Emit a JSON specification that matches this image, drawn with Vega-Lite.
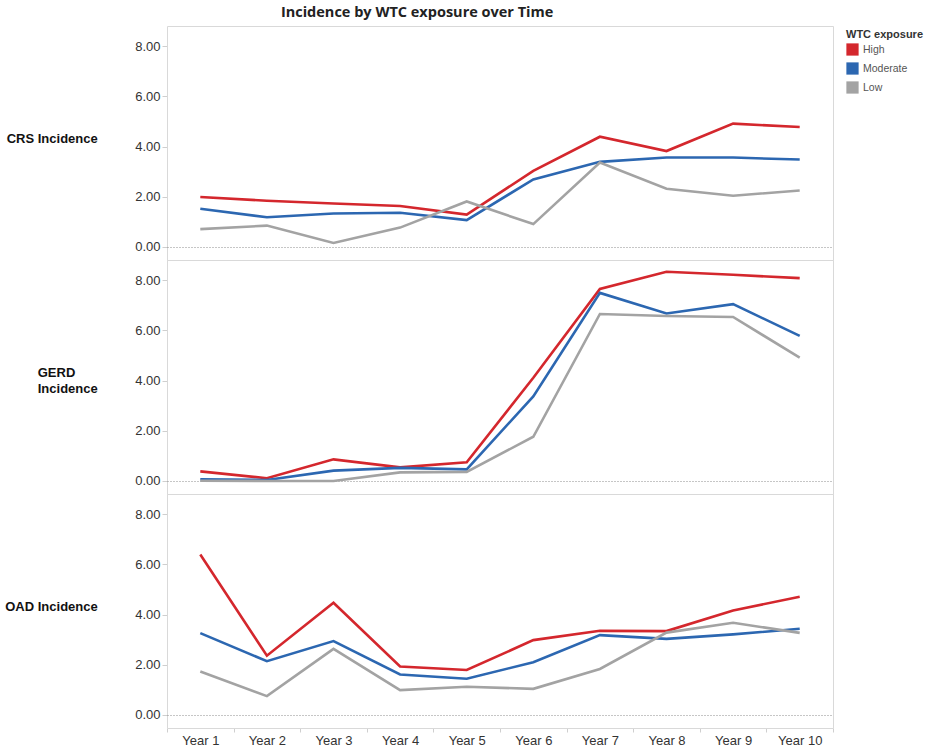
{
  "$schema": "https://vega.github.io/schema/vega-lite/v6.json",
  "title": {"text": "Incidence by WTC exposure over Time", "anchor": "middle", "dx": -49, "font": "Open Sans", "fontSize": 14.5, "fontWeight": "bold", "color": "#222", "offset": 5},
  "padding": {"left": 5, "top": 5, "right": 5, "bottom": 0},
  "bounds": "flush",
  "data": {
    "values": [
      {"measure": "CRS Incidence", "exposure": "High", "year": "Year 1", "value": 1.99},
      {"measure": "CRS Incidence", "exposure": "High", "year": "Year 2", "value": 1.84},
      {"measure": "CRS Incidence", "exposure": "High", "year": "Year 3", "value": 1.73},
      {"measure": "CRS Incidence", "exposure": "High", "year": "Year 4", "value": 1.63},
      {"measure": "CRS Incidence", "exposure": "High", "year": "Year 5", "value": 1.29},
      {"measure": "CRS Incidence", "exposure": "High", "year": "Year 6", "value": 3.03},
      {"measure": "CRS Incidence", "exposure": "High", "year": "Year 7", "value": 4.39},
      {"measure": "CRS Incidence", "exposure": "High", "year": "Year 8", "value": 3.82},
      {"measure": "CRS Incidence", "exposure": "High", "year": "Year 9", "value": 4.91},
      {"measure": "CRS Incidence", "exposure": "High", "year": "Year 10", "value": 4.78},
      {"measure": "CRS Incidence", "exposure": "Moderate", "year": "Year 1", "value": 1.52},
      {"measure": "CRS Incidence", "exposure": "Moderate", "year": "Year 2", "value": 1.18},
      {"measure": "CRS Incidence", "exposure": "Moderate", "year": "Year 3", "value": 1.33},
      {"measure": "CRS Incidence", "exposure": "Moderate", "year": "Year 4", "value": 1.36},
      {"measure": "CRS Incidence", "exposure": "Moderate", "year": "Year 5", "value": 1.07},
      {"measure": "CRS Incidence", "exposure": "Moderate", "year": "Year 6", "value": 2.69},
      {"measure": "CRS Incidence", "exposure": "Moderate", "year": "Year 7", "value": 3.39},
      {"measure": "CRS Incidence", "exposure": "Moderate", "year": "Year 8", "value": 3.56},
      {"measure": "CRS Incidence", "exposure": "Moderate", "year": "Year 9", "value": 3.56},
      {"measure": "CRS Incidence", "exposure": "Moderate", "year": "Year 10", "value": 3.48},
      {"measure": "CRS Incidence", "exposure": "Low", "year": "Year 1", "value": 0.71},
      {"measure": "CRS Incidence", "exposure": "Low", "year": "Year 2", "value": 0.85},
      {"measure": "CRS Incidence", "exposure": "Low", "year": "Year 3", "value": 0.16},
      {"measure": "CRS Incidence", "exposure": "Low", "year": "Year 4", "value": 0.77},
      {"measure": "CRS Incidence", "exposure": "Low", "year": "Year 5", "value": 1.81},
      {"measure": "CRS Incidence", "exposure": "Low", "year": "Year 6", "value": 0.91},
      {"measure": "CRS Incidence", "exposure": "Low", "year": "Year 7", "value": 3.36},
      {"measure": "CRS Incidence", "exposure": "Low", "year": "Year 8", "value": 2.32},
      {"measure": "CRS Incidence", "exposure": "Low", "year": "Year 9", "value": 2.04},
      {"measure": "CRS Incidence", "exposure": "Low", "year": "Year 10", "value": 2.25},
      {"measure": "GERD Incidence", "exposure": "High", "year": "Year 1", "value": 0.38},
      {"measure": "GERD Incidence", "exposure": "High", "year": "Year 2", "value": 0.11},
      {"measure": "GERD Incidence", "exposure": "High", "year": "Year 3", "value": 0.86},
      {"measure": "GERD Incidence", "exposure": "High", "year": "Year 4", "value": 0.54},
      {"measure": "GERD Incidence", "exposure": "High", "year": "Year 5", "value": 0.74},
      {"measure": "GERD Incidence", "exposure": "High", "year": "Year 6", "value": 4.11},
      {"measure": "GERD Incidence", "exposure": "High", "year": "Year 7", "value": 7.65},
      {"measure": "GERD Incidence", "exposure": "High", "year": "Year 8", "value": 8.33},
      {"measure": "GERD Incidence", "exposure": "High", "year": "Year 9", "value": 8.21},
      {"measure": "GERD Incidence", "exposure": "High", "year": "Year 10", "value": 8.08},
      {"measure": "GERD Incidence", "exposure": "Moderate", "year": "Year 1", "value": 0.07},
      {"measure": "GERD Incidence", "exposure": "Moderate", "year": "Year 2", "value": 0.04},
      {"measure": "GERD Incidence", "exposure": "Moderate", "year": "Year 3", "value": 0.41},
      {"measure": "GERD Incidence", "exposure": "Moderate", "year": "Year 4", "value": 0.52},
      {"measure": "GERD Incidence", "exposure": "Moderate", "year": "Year 5", "value": 0.46},
      {"measure": "GERD Incidence", "exposure": "Moderate", "year": "Year 6", "value": 3.37},
      {"measure": "GERD Incidence", "exposure": "Moderate", "year": "Year 7", "value": 7.49},
      {"measure": "GERD Incidence", "exposure": "Moderate", "year": "Year 8", "value": 6.67},
      {"measure": "GERD Incidence", "exposure": "Moderate", "year": "Year 9", "value": 7.04},
      {"measure": "GERD Incidence", "exposure": "Moderate", "year": "Year 10", "value": 5.78},
      {"measure": "GERD Incidence", "exposure": "Low", "year": "Year 1", "value": 0.01},
      {"measure": "GERD Incidence", "exposure": "Low", "year": "Year 2", "value": 0.0},
      {"measure": "GERD Incidence", "exposure": "Low", "year": "Year 3", "value": 0.0},
      {"measure": "GERD Incidence", "exposure": "Low", "year": "Year 4", "value": 0.34},
      {"measure": "GERD Incidence", "exposure": "Low", "year": "Year 5", "value": 0.36},
      {"measure": "GERD Incidence", "exposure": "Low", "year": "Year 6", "value": 1.76},
      {"measure": "GERD Incidence", "exposure": "Low", "year": "Year 7", "value": 6.65},
      {"measure": "GERD Incidence", "exposure": "Low", "year": "Year 8", "value": 6.57},
      {"measure": "GERD Incidence", "exposure": "Low", "year": "Year 9", "value": 6.53},
      {"measure": "GERD Incidence", "exposure": "Low", "year": "Year 10", "value": 4.91},
      {"measure": "OAD Incidence", "exposure": "High", "year": "Year 1", "value": 6.39},
      {"measure": "OAD Incidence", "exposure": "High", "year": "Year 2", "value": 2.36},
      {"measure": "OAD Incidence", "exposure": "High", "year": "Year 3", "value": 4.47},
      {"measure": "OAD Incidence", "exposure": "High", "year": "Year 4", "value": 1.93},
      {"measure": "OAD Incidence", "exposure": "High", "year": "Year 5", "value": 1.79},
      {"measure": "OAD Incidence", "exposure": "High", "year": "Year 6", "value": 2.98},
      {"measure": "OAD Incidence", "exposure": "High", "year": "Year 7", "value": 3.35},
      {"measure": "OAD Incidence", "exposure": "High", "year": "Year 8", "value": 3.34},
      {"measure": "OAD Incidence", "exposure": "High", "year": "Year 9", "value": 4.16},
      {"measure": "OAD Incidence", "exposure": "High", "year": "Year 10", "value": 4.71},
      {"measure": "OAD Incidence", "exposure": "Moderate", "year": "Year 1", "value": 3.26},
      {"measure": "OAD Incidence", "exposure": "Moderate", "year": "Year 2", "value": 2.14},
      {"measure": "OAD Incidence", "exposure": "Moderate", "year": "Year 3", "value": 2.94},
      {"measure": "OAD Incidence", "exposure": "Moderate", "year": "Year 4", "value": 1.61},
      {"measure": "OAD Incidence", "exposure": "Moderate", "year": "Year 5", "value": 1.44},
      {"measure": "OAD Incidence", "exposure": "Moderate", "year": "Year 6", "value": 2.10},
      {"measure": "OAD Incidence", "exposure": "Moderate", "year": "Year 7", "value": 3.18},
      {"measure": "OAD Incidence", "exposure": "Moderate", "year": "Year 8", "value": 3.03},
      {"measure": "OAD Incidence", "exposure": "Moderate", "year": "Year 9", "value": 3.21},
      {"measure": "OAD Incidence", "exposure": "Moderate", "year": "Year 10", "value": 3.43},
      {"measure": "OAD Incidence", "exposure": "Low", "year": "Year 1", "value": 1.73},
      {"measure": "OAD Incidence", "exposure": "Low", "year": "Year 2", "value": 0.75},
      {"measure": "OAD Incidence", "exposure": "Low", "year": "Year 3", "value": 2.63},
      {"measure": "OAD Incidence", "exposure": "Low", "year": "Year 4", "value": 0.99},
      {"measure": "OAD Incidence", "exposure": "Low", "year": "Year 5", "value": 1.12},
      {"measure": "OAD Incidence", "exposure": "Low", "year": "Year 6", "value": 1.04},
      {"measure": "OAD Incidence", "exposure": "Low", "year": "Year 7", "value": 1.83},
      {"measure": "OAD Incidence", "exposure": "Low", "year": "Year 8", "value": 3.28},
      {"measure": "OAD Incidence", "exposure": "Low", "year": "Year 9", "value": 3.67},
      {"measure": "OAD Incidence", "exposure": "Low", "year": "Year 10", "value": 3.27}
    ]
  },
  "facet": {
    "row": {
      "field": "measure",
      "type": "nominal",
      "title": null,
      "header": {
        "labelOrient": "left",
        "labelAngle": 0,
        "labelAlign": "left",
        "labelBaseline": "alphabetic",
        "labelLineHeight": 16,
        "labelPadding": 37,
        "labelFont": "Liberation Sans",
        "labelFontSize": 13,
        "labelFontWeight": "bold",
        "labelColor": "#111",
        "labelExpr": "datum.value == 'GERD Incidence' ? ['GERD', 'Incidence'] : datum.value"
      }
    }
  },
  "spacing": {"row": 0},
  "spec": {
    "width": 666,
    "height": 234,
    "mark": {"type": "line", "strokeWidth": 2.6},
    "encoding": {
      "x": {
        "field": "year",
        "type": "ordinal",
        "title": null,
        "sort": ["Year 1", "Year 2", "Year 3", "Year 4", "Year 5", "Year 6", "Year 7", "Year 8", "Year 9", "Year 10"],
        "scale": {"type": "band", "paddingInner": 0, "paddingOuter": 0},
        "axis": {"labelAngle": 0, "tickBand": "extent", "domain": false, "labelPadding": 2, "tickSize": 4}
      },
      "y": {
        "field": "value",
        "type": "quantitative",
        "title": null,
        "scale": {"domain": [-0.52, 8.8], "nice": false, "zero": false},
        "axis": {
          "values": [0, 2, 4, 6, 8],
          "format": ".2f",
          "domain": false,
          "grid": true,
          "gridOpacity": {"condition": {"test": "datum.value === 0", "value": 1}, "value": 0},
          "gridDash": [1, 2],
          "gridColor": "#8c8c8c"
        }
      },
      "color": {
        "field": "exposure",
        "type": "nominal",
        "title": "WTC exposure",
        "scale": {"domain": ["High", "Moderate", "Low"], "range": ["#d4272d", "#2c67b1", "#a3a3a3"]},
        "legend": {
          "symbolType": "square",
          "symbolSize": 150,
          "encode": {"symbols": {"update": {"fill": {"scale": "color", "field": "value"}, "strokeWidth": {"value": 0}}}}
        }
      }
    }
  },
  "config": {
    "font": "Liberation Sans",
    "view": {"stroke": "#d9d9d9", "strokeWidth": 1},
    "axis": {
      "labelFont": "Liberation Sans",
      "labelFontSize": 13,
      "labelColor": "#333",
      "tickColor": "#cfcfcf",
      "tickSize": 5
    },
    "legend": {
      "titleFont": "Liberation Sans",
      "titleFontSize": 11,
      "titleFontWeight": "bold",
      "titleColor": "#333",
      "titlePadding": 3,
      "labelFont": "Liberation Sans",
      "labelFontSize": 10.5,
      "labelColor": "#555",
      "rowPadding": 6,
      "padding": 3,
      "offset": 9
    }
  }
}
